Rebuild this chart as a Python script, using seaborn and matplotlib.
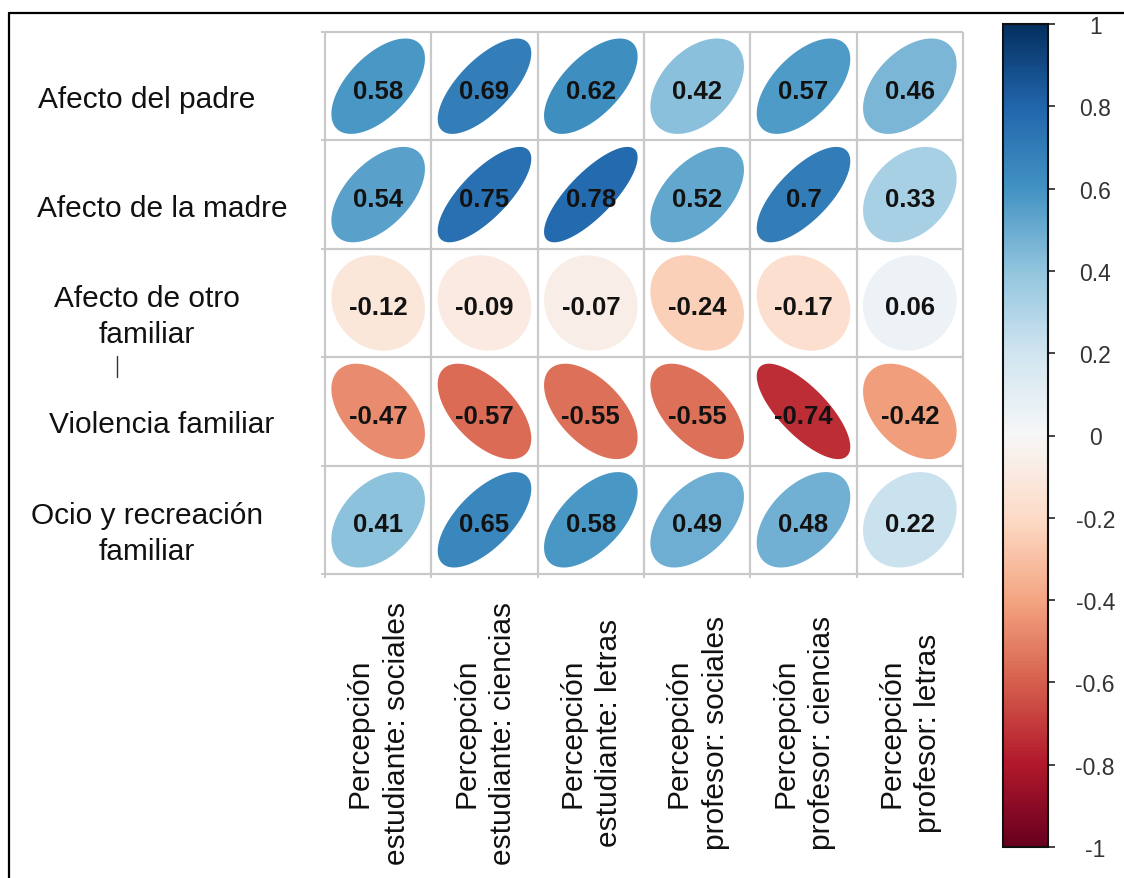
import numpy as np
import pandas as pd
import matplotlib
matplotlib.use("Agg")
import matplotlib.pyplot as plt
import matplotlib.transforms as mtransforms
from matplotlib.lines import Line2D
import seaborn as sns

# ---------------- data ----------------
row_labels = ["Afecto del padre", "Afecto de la madre", "Afecto de otro\nfamiliar",
              "Violencia familiar", "Ocio y recreación\nfamiliar"]
col_labels = ["Percepción\nestudiante: sociales", "Percepción\nestudiante: ciencias",
              "Percepción\nestudiante: letras", "Percepción\nprofesor: sociales",
              "Percepción\nprofesor: ciencias", "Percepción\nprofesor: letras"]
afecto_padre = [0.58, 0.69, 0.62, 0.42, 0.57, 0.46]
afecto_madre = [0.54, 0.75, 0.78, 0.52, 0.70, 0.33]
afecto_otro = [-0.12, -0.09, -0.07, -0.24, -0.17, 0.06]
violencia = [-0.47, -0.57, -0.55, -0.55, -0.74, -0.42]
ocio = [0.41, 0.65, 0.58, 0.49, 0.48, 0.22]
cbar_ticks = [-1, -0.8, -0.6, -0.4, -0.2, 0, 0.2, 0.4, 0.6, 0.8, 1]

df = pd.DataFrame([afecto_padre, afecto_madre, afecto_otro, violencia, ocio],
                  index=row_labels, columns=col_labels)

# ---------------- figure ----------------
sns.set_theme(style="white")
plt.rcParams["font.family"] = ["Liberation Sans", "DejaVu Sans"]

W, H = 1124, 879
fig = plt.figure(figsize=(W / 100, H / 100), dpi=100)
fig.patch.set_facecolor("white")

def fx(px):
    return px / W

def fy(py):
    return 1 - py / H

ax = fig.add_axes([fx(325), fy(575), fx(963) - fx(325), fy(33) - fy(575)])
cax = fig.add_axes([fx(1003), fy(848), fx(1048) - fx(1003), fy(25) - fy(848)])

cmap = plt.get_cmap("RdBu")
norm = matplotlib.colors.Normalize(vmin=-1, vmax=1)

sns.heatmap(df, mask=np.ones(df.shape, dtype=bool), cmap=cmap, vmin=-1, vmax=1,
            ax=ax, cbar_ax=cax, cbar=True)

nr, nc = df.shape
ax.set_xlim(0, nc)
ax.set_ylim(nr, 0)

# grid
grid_col = "#c9c9c9"
ax.hlines(np.arange(nr + 1), 0, nc, colors=grid_col, lw=1.6, clip_on=False, zorder=1)
ax.vlines(np.arange(nc + 1), 0, nr, colors=grid_col, lw=1.6, clip_on=False, zorder=1)

# ellipses + annotations
s = 0.44
t = np.linspace(-np.pi, np.pi, 240)
for i in range(nr):
    for j in range(nc):
        r = df.iat[i, j]
        a = np.arccos(r) / 2
        ex = np.cos(t + a)
        ey = np.cos(t - a)
        ax.fill(j + 0.5 + s * ex, i + 0.5 - s * ey, color=cmap(norm(r)), lw=0, zorder=2)
        ax.text(j + 0.5, i + 0.54, f"{r:g}", ha="center", va="center",
                fontsize=18.5, fontweight="bold", color="#121212", zorder=3)

# x labels
ax.set_xticks(np.arange(nc) + 0.5)
ax.set_xticklabels(col_labels, rotation=90, fontsize=21.5, color="#111111",
                   ha="center", va="center", multialignment="center", linespacing=1.4)
ax.tick_params(axis="x", which="major", length=0, pad=114)
ax.set_yticks([])
ax.set_xticks(np.arange(nc + 1), minor=True)
ax.set_yticks(np.arange(nr + 1), minor=True)
ax.tick_params(which="minor", length=3, width=1.4, color=grid_col,
               bottom=True, left=True, labelbottom=False, labelleft=False)
ax.set_xlabel("")
ax.set_ylabel("")

# y labels (left side, centered)
row_label_x = [147, 162, 147, 162, 147]
trans = mtransforms.blended_transform_factory(fig.transFigure, ax.transData)
offset = mtransforms.ScaledTranslation(0, -13 / 100, fig.dpi_scale_trans)
for i, lab in enumerate(row_labels):
    ax.text(fx(row_label_x[i]), i + 0.5, lab, transform=trans + offset, ha="center",
            va="center", multialignment="center", fontsize=21.5, color="#111111",
            linespacing=1.35)

# colorbar
cb = ax.collections[0].colorbar
cb.set_ticks(cbar_ticks)
cb.set_ticklabels([f"{v:g}" for v in cbar_ticks])
cb.outline.set_edgecolor("#111111")
cb.outline.set_linewidth(1.5)
cax.tick_params(axis="y", right=True, left=False, direction="out", length=5,
                width=1.2, color="#222222", labelsize=16.5, labelcolor="#333333", pad=29)
for lbl in cax.get_yticklabels():
    lbl.set_ha("center")

# frame and stray mark
fig.add_artist(Line2D([fx(9), fx(9)], [fy(14), 0], transform=fig.transFigure,
                      color="black", lw=1.6))
fig.add_artist(Line2D([fx(9), 1], [fy(14), fy(14)], transform=fig.transFigure,
                      color="black", lw=1.6))
fig.add_artist(Line2D([fx(117), fx(117)], [fy(357), fy(378)], transform=fig.transFigure,
                      color="#333333", lw=1.0))

fig.savefig("out.png", dpi=100, facecolor="white")
